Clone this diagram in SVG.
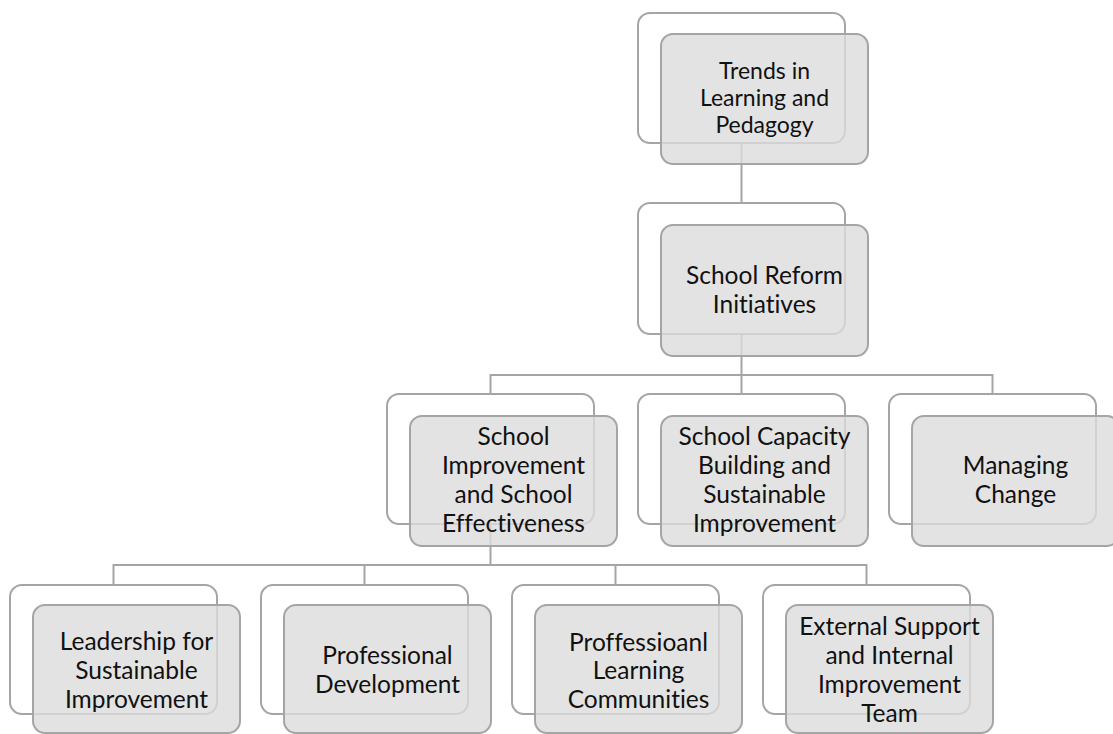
<svg xmlns="http://www.w3.org/2000/svg" width="1113" height="734" viewBox="0 0 1113 734">
<style>
.back{fill:#ffffff;stroke:#a5a5a5;stroke-width:2}
.front{fill:#dcdcdc;fill-opacity:0.8;stroke:#a5a5a5;stroke-width:2}
.conn{fill:none;stroke:#a5a5a5;stroke-width:2}
text{font-family:Lato,"Liberation Sans",sans-serif;font-size:24.5px;fill:#111;text-anchor:middle;font-variant-ligatures:none;font-feature-settings:"liga" 0,"clig" 0}
.small{font-size:23px}
</style>
<rect width="1113" height="734" fill="#ffffff"/>
<g id="connectors">
<path class="conn" d="M741.5 143V203M741.5 334V394M490.5 394V375H992.5V394M490.5 524V565M113.5 585V565H866.5V585M364.5 565V585M615.5 565V585"/>
</g>
<g id="n1">
<rect class="back" x="638" y="13" width="207" height="130" rx="12"/>
<rect class="front" x="661" y="34" width="207" height="130" rx="12"/>
<text class="small" x="764.5" y="79">Trends in</text>
<text class="small" x="764.5" y="106">Learning and</text>
<text class="small" x="764.5" y="133">Pedagogy</text>
</g>
<g id="n2">
<rect class="back" x="638" y="203" width="207" height="131" rx="12"/>
<rect class="front" x="661" y="225" width="207" height="131" rx="12"/>
<text x="764.5" y="284">School Reform</text>
<text x="764.5" y="313">Initiatives</text>
</g>
<g id="n3">
<rect class="back" x="387" y="394" width="207" height="130" rx="12"/>
<rect class="front" x="410" y="416" width="207" height="130" rx="12"/>
<text x="513.5" y="445">School</text>
<text x="513.5" y="474">Improvement</text>
<text x="513.5" y="503">and School</text>
<text x="513.5" y="532">Effectiveness</text>
</g>
<g id="n4">
<rect class="back" x="638" y="394" width="207" height="130" rx="12"/>
<rect class="front" x="661" y="416" width="207" height="130" rx="12"/>
<text x="764.5" y="445">School Capacity</text>
<text x="764.5" y="474">Building and</text>
<text x="764.5" y="503">Sustainable</text>
<text x="764.5" y="532">Improvement</text>
</g>
<g id="n5">
<rect class="back" x="889" y="394" width="207" height="130" rx="12"/>
<rect class="front" x="912" y="416" width="207" height="130" rx="12"/>
<text x="1015.5" y="474">Managing</text>
<text x="1015.5" y="503">Change</text>
</g>
<g id="n6">
<rect class="back" x="10" y="585" width="207" height="129" rx="12"/>
<rect class="front" x="33" y="605" width="207" height="128" rx="12"/>
<text x="136.5" y="650">Leadership for</text>
<text x="136.5" y="679">Sustainable</text>
<text x="136.5" y="708">Improvement</text>
</g>
<g id="n7">
<rect class="back" x="261" y="585" width="207" height="129" rx="12"/>
<rect class="front" x="284" y="605" width="207" height="128" rx="12"/>
<text x="387.5" y="664">Professional</text>
<text x="387.5" y="693">Development</text>
</g>
<g id="n8">
<rect class="back" x="512" y="585" width="207" height="129" rx="12"/>
<rect class="front" x="535" y="605" width="207" height="128" rx="12"/>
<text x="638.5" y="651">Proffessioanl</text>
<text x="638.5" y="679">Learning</text>
<text x="638.5" y="708">Communities</text>
</g>
<g id="n9">
<rect class="back" x="763" y="585" width="207" height="129" rx="12"/>
<rect class="front" x="786" y="605" width="207" height="128" rx="12"/>
<text x="889.5" y="635">External Support</text>
<text x="889.5" y="664">and Internal</text>
<text x="889.5" y="693">Improvement</text>
<text x="889.5" y="722">Team</text>
</g>
</svg>
